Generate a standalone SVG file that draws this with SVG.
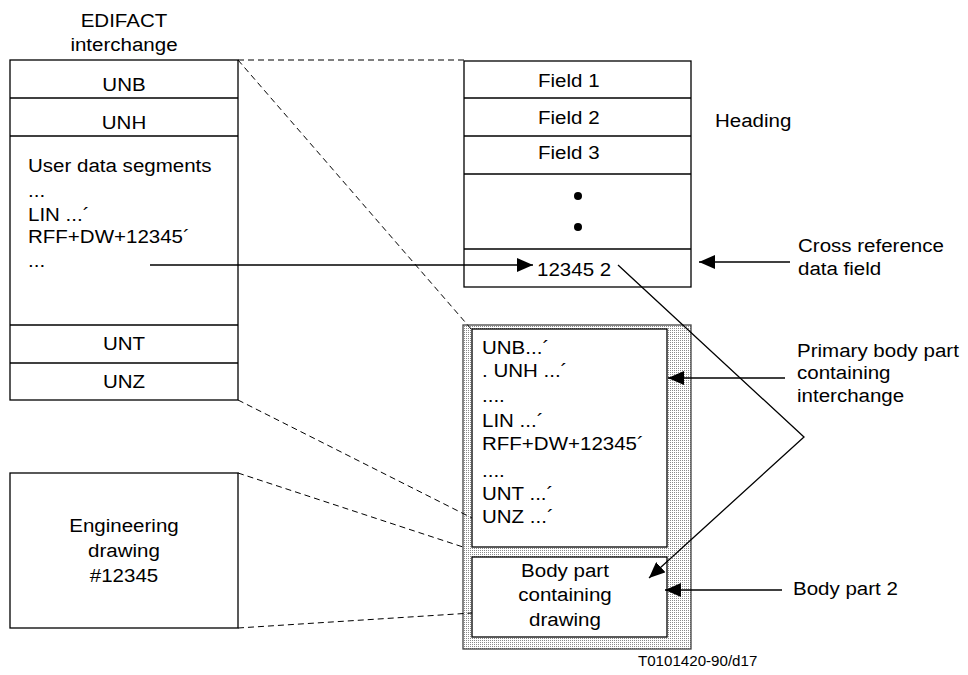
<svg xmlns="http://www.w3.org/2000/svg" width="968" height="675" viewBox="0 0 968 675">
<defs>
<style>
text { font-family: "Liberation Sans", Arial, sans-serif; font-size: 19px; fill: #000; transform-box: fill-box; }
.m { text-anchor: middle; transform-origin: center; transform: scaleX(1.08); }
.s { transform-origin: left; transform: scaleX(1.08); }
.small { font-size: 14px; }
.box { fill: #fff; stroke: #000; stroke-width: 1.3; }
.ln { fill: none; stroke: #000; stroke-width: 1.3; }
.dash { fill: none; stroke: #000; stroke-width: 1; stroke-dasharray: 6 4; }
.arr { fill: none; stroke: #000; stroke-width: 1.3; marker-end: url(#ah); }
</style>
<pattern id="dots" width="2" height="2" patternUnits="userSpaceOnUse">
<rect width="2" height="2" fill="#fff"/>
<rect width="1" height="1" fill="#8a8a8a"/>
</pattern>
<marker id="ah" markerUnits="userSpaceOnUse" markerWidth="17" markerHeight="14" refX="16" refY="7" orient="auto">
<path d="M0,0 L16,7 L0,14 z" fill="#000"/>
</marker>
</defs>
<rect width="968" height="675" fill="#fff"/>

<g id="edifact">
<text class="m" x="124" y="27">EDIFACT</text>
<text class="m" x="124" y="51">interchange</text>
<rect class="box" x="10" y="60" width="228" height="340"/>
<line class="ln" x1="10" y1="98" x2="238" y2="98"/>
<line class="ln" x1="10" y1="136" x2="238" y2="136"/>
<line class="ln" x1="10" y1="325" x2="238" y2="325"/>
<line class="ln" x1="10" y1="363" x2="238" y2="363"/>
<text class="m" x="124" y="91">UNB</text>
<text class="m" x="124" y="129">UNH</text>
<text class="s" x="28" y="172">User data segments</text>
<text class="s" x="28" y="197">...</text>
<text class="s" x="28" y="221">LIN ...´</text>
<text class="s" x="28" y="243">RFF+DW+12345´</text>
<text class="s" x="28" y="267">...</text>
<text class="m" x="124" y="350">UNT</text>
<text class="m" x="124" y="388">UNZ</text>
</g>

<g id="engineering">
<rect class="box" x="10" y="473" width="228" height="155"/>
<text class="m" x="124" y="532">Engineering</text>
<text class="m" x="124" y="557">drawing</text>
<text class="m" x="124" y="582">#12345</text>
</g>

<g id="fields">
<rect class="box" x="464" y="61" width="227" height="226"/>
<line class="ln" x1="464" y1="98" x2="691" y2="98"/>
<line class="ln" x1="464" y1="136" x2="691" y2="136"/>
<line class="ln" x1="464" y1="174" x2="691" y2="174"/>
<line class="ln" x1="464" y1="249" x2="691" y2="249"/>
<text class="s" x="538" y="87">Field 1</text>
<text class="s" x="538" y="124">Field 2</text>
<text class="s" x="538" y="159">Field 3</text>
<circle cx="578" cy="196" r="4"/>
<circle cx="578" cy="227" r="4"/>
<text class="s" x="537" y="276">12345 2</text>
</g>

<g id="message">
<rect x="463" y="325" width="228" height="324" fill="url(#dots)" stroke="#444" stroke-width="1.3"/>
<g id="primary">
<rect class="box" x="472" y="329" width="195" height="218"/>
<text class="s" x="482" y="354">UNB...´</text>
<text class="s" x="482" y="377">. UNH ...´</text>
<text class="s" x="482" y="402">....</text>
<text class="s" x="482" y="427">LIN ...´</text>
<text class="s" x="482" y="450">RFF+DW+12345´</text>
<text class="s" x="482" y="477">....</text>
<text class="s" x="482" y="500">UNT ...´</text>
<text class="s" x="482" y="523">UNZ ...´</text>
</g>
<g id="bodypart">
<rect class="box" x="472" y="557" width="195" height="80"/>
<text class="m" x="565" y="577">Body part</text>
<text class="m" x="565" y="601">containing</text>
<text class="m" x="565" y="626">drawing</text>
</g>
</g>

<g id="labels">
<text class="s" x="715" y="127">Heading</text>
<text class="s" x="798" y="252">Cross reference</text>
<text class="s" x="798" y="275">data field</text>
<text class="s" x="797" y="357">Primary body part</text>
<text class="s" x="797" y="379">containing</text>
<text class="s" x="797" y="402">interchange</text>
<text class="s" x="793" y="595">Body part 2</text>
<text class="s small" x="638" y="666">T0101420-90/d17</text>
</g>

<g id="connectors">
<line class="dash" x1="238" y1="60" x2="464" y2="60"/>
<line class="dash" x1="238" y1="60" x2="472" y2="330"/>
<line class="dash" x1="238" y1="400" x2="472" y2="518"/>
<line class="dash" x1="238" y1="473" x2="463" y2="547"/>
<line class="dash" x1="238" y1="628" x2="472" y2="613"/>
<line class="arr" x1="150" y1="265" x2="533" y2="265"/>
<line class="arr" x1="790" y1="262" x2="699" y2="262"/>
<line class="arr" x1="785" y1="378" x2="668" y2="378"/>
<line class="arr" x1="782" y1="590" x2="665" y2="590"/>
<polyline class="arr" points="618,265 804,437 649,578"/>
</g>
</svg>
